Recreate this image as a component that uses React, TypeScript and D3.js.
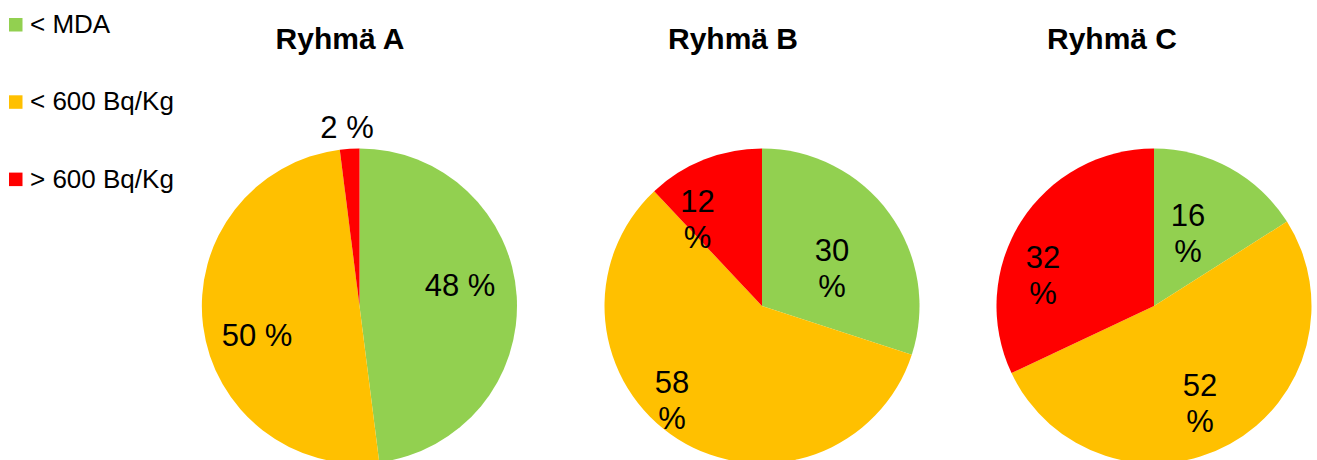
import React from "react";
import * as d3 from "d3";

// Categories and their colours
const categories = ["< MDA", "< 600 Bq/Kg", "> 600 Bq/Kg"];
const colors = ["#92D050", "#FFC000", "#FF0000"];

// Group names and percentage shares (same order as categories)
const groups = ["Ryhmä A", "Ryhmä B", "Ryhmä C"];
const valuesA = [48, 50, 2];
const valuesB = [30, 58, 12];
const valuesC = [16, 52, 32];
const groupValues = [valuesA, valuesB, valuesC];

// Layout
const W = 1317;
const H = 460;
const FONT = "'Liberation Sans', Arial, Helvetica, sans-serif";
const pieCenters = [
  { cx: 359.5, cy: 306 },
  { cx: 762, cy: 306 },
  { cx: 1154, cy: 306 },
];
const radius = 157.5;
const titleX = [340, 733, 1112];
const titleY = 49;
// Label placement (centre of label block relative to pie centre)
const labelOffsets = [
  [[100.5, -21], [-102.5, 29], [-12.5, -179]],
  [[70, -38.5], [-90, 94], [-64.5, -87]],
  [[34, -73.5], [46, 96.5], [-111, -31.5]],
];
const wrapLabels = [false, true, true];
const labelSize = 31;
const lineGap = 36;

export default function App() {
  const pie = d3
    .pie<number>()
    .sort(null)
    .value((d) => d)
    .startAngle(0)
    .endAngle(2 * Math.PI);
  const arc = d3.arc<d3.PieArcDatum<number>>().innerRadius(0).outerRadius(radius);

  return (
    <svg
      width={W}
      height={H}
      style={{ position: "absolute", left: 0, top: 0, background: "#fff" }}
      fontFamily={FONT}
    >
      {/* Legend */}
      {categories.map((c, i) => {
        const base = 33 + i * 77.3;
        return (
          <g key={c}>
            <rect x={9} y={base - 15} width={13.5} height={13.5} fill={colors[i]} />
            <text x={30} y={base} fontSize={26} fill="#000">
              {c}
            </text>
          </g>
        );
      })}

      {groups.map((g, gi) => {
        const { cx, cy } = pieCenters[gi];
        const arcs = pie(groupValues[gi]);
        return (
          <g key={g}>
            <text
              x={titleX[gi]}
              y={titleY}
              textAnchor="middle"
              fontSize={30}
              fontWeight="bold"
              fill="#000"
            >
              {g}
            </text>
            <g transform={`translate(${cx},${cy})`}>
              {arcs.map((a, i) => (
                <path key={i} d={arc(a) || ""} fill={colors[i]} />
              ))}
              {arcs.map((a, i) => {
                const [dx, dy] = labelOffsets[gi][i];
                const ascent = labelSize * 0.36;
                if (wrapLabels[gi]) {
                  return (
                    <text key={"l" + i} textAnchor="middle" fontSize={labelSize} fill="#000">
                      <tspan x={dx} y={dy - lineGap / 2 + ascent}>
                        {a.data}
                      </tspan>
                      <tspan x={dx} y={dy + lineGap / 2 + ascent}>
                        %
                      </tspan>
                    </text>
                  );
                }
                return (
                  <text
                    key={"l" + i}
                    x={dx}
                    y={dy + ascent}
                    textAnchor="middle"
                    fontSize={labelSize}
                    fill="#000"
                  >
                    {`${a.data} %`}
                  </text>
                );
              })}
            </g>
          </g>
        );
      })}
    </svg>
  );
}
